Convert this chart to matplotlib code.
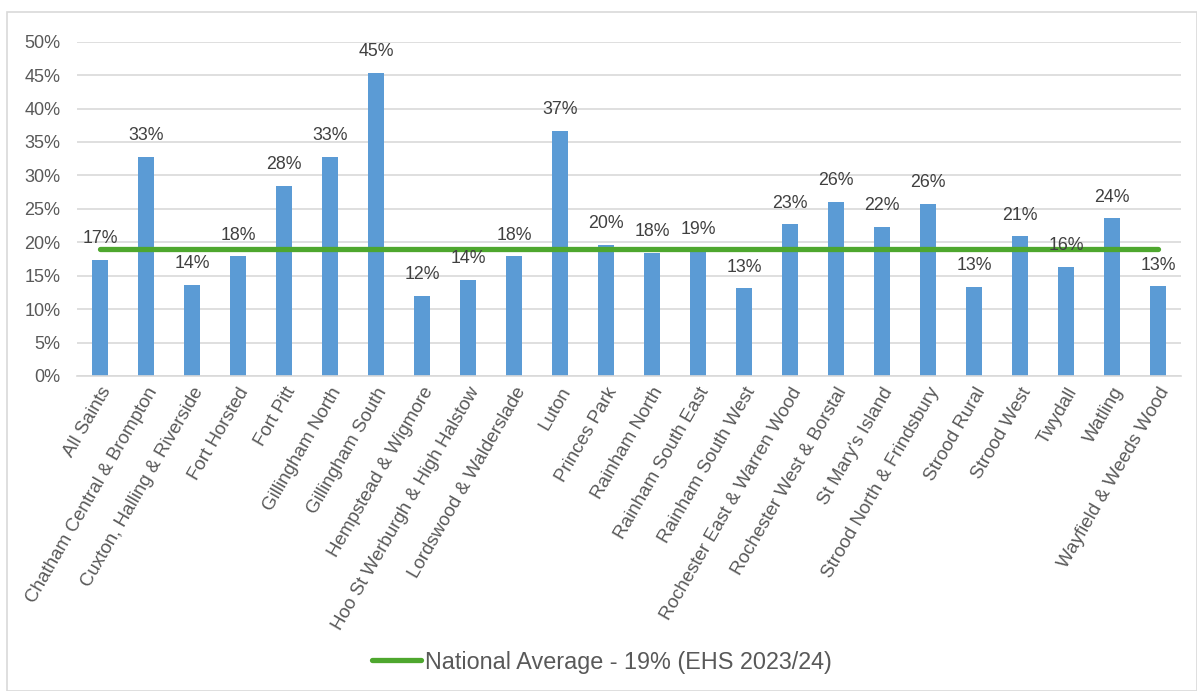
import matplotlib.pyplot as plt
from matplotlib.patches import Rectangle
from matplotlib.lines import Line2D
import numpy as np

wards = ["All Saints", "Chatham Central & Brompton", "Cuxton, Halling & Riverside",
         "Fort Horsted", "Fort Pitt", "Gillingham North", "Gillingham South",
         "Hempstead & Wigmore", "Hoo St Werburgh & High Halstow", "Lordswood & Walderslade",
         "Luton", "Princes Park", "Rainham North", "Rainham South East",
         "Rainham South West", "Rochester East & Warren Wood", "Rochester West & Borstal",
         "St Mary's Island", "Strood North & Frindsbury", "Strood Rural", "Strood West",
         "Twydall", "Watling", "Wayfield & Weeds Wood"]
values = [17.4, 32.8, 13.6, 17.9, 28.4, 32.8, 45.3, 12.0, 14.4, 17.9, 36.7, 19.6,
          18.4, 18.8, 13.1, 22.7, 26.0, 22.3, 25.8, 13.3, 20.9, 16.3, 23.6, 13.4]
national_avg = 19.0
legend_label = "National Average - 19% (EHS 2023/24)"
yticks = [0, 5, 10, 15, 20, 25, 30, 35, 40, 45, 50]

plt.rcParams['font.family'] = ['Liberation Sans', 'DejaVu Sans']

W, H = 1197, 691
fig = plt.figure(figsize=(W / 100, H / 100), dpi=100)
ax = fig.add_axes([77 / W, 1 - 376 / H, (1181 - 77) / W, (376 - 41.7) / H])

x = np.arange(len(wards))
ax.bar(x, values, width=0.35, color="#5B9BD5", zorder=2)
ax.plot([x[0], x[-1]], [national_avg] * 2, color="#4EA72E", lw=3.8,
        solid_capstyle="round", zorder=3)

for xi, v in zip(x, values):
    ax.text(xi, v + 1.9, f"{round(v):.0f}%", ha="center", va="bottom",
            fontsize=12.8, color="#404040", zorder=4)

ax.set_xlim(-0.5, len(wards) - 0.5)
ax.set_ylim(0, 50)
ax.set_yticks(yticks)
ax.set_yticklabels([f"{t}%" for t in yticks], fontsize=13, color="#595959")
ax.yaxis.grid(True, color="#D9D9D9", lw=1.2, zorder=0)
ax.set_axisbelow(True)
ax.tick_params(axis="y", length=0, pad=12)
ax.tick_params(axis="x", length=0, pad=6)
ax.set_xticks(x)
ax.set_xticklabels(wards, rotation=60, ha="right", rotation_mode="anchor",
                   fontsize=13.5, color="#595959")
for s in ["top", "right", "left"]:
    ax.spines[s].set_visible(False)
ax.spines["bottom"].set_color("#D9D9D9")
ax.spines["bottom"].set_linewidth(1.2)

handle = Line2D([0], [0], color="#4EA72E", lw=3.8, solid_capstyle="round")
fig.legend([handle], [legend_label], loc="center", bbox_to_anchor=(0.503, 1 - 662 / H),
           frameon=False, fontsize=16.8, labelcolor="#595959", handlelength=2.1,
           handletextpad=0.2)

fig.patches.append(Rectangle((7 / W, 0), 1 - 7 / W - 0.5 / W, 1 - 12 / H,
                             transform=fig.transFigure, fill=False,
                             edgecolor="#D9D9D9", lw=1.2))

fig.savefig("out.png", dpi=100)
